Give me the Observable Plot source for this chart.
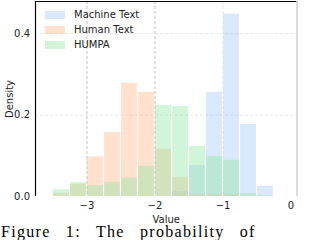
<!DOCTYPE html>
<html>
<head>
<meta charset="utf-8">
<script src="https://cdn.jsdelivr.net/npm/d3@7"></script>
<script src="https://cdn.jsdelivr.net/npm/@observablehq/plot@0.6"></script>
<style>
  html, body { margin: 0; padding: 0; background: #fff; width: 320px; height: 240px; overflow: hidden; }
  #wrap { position: relative; width: 320px; height: 240px; }
  #legend { position: absolute; left: 45px; top: 7px; font: 10px "DejaVu Sans", sans-serif; color: #222; }
  .row { display: flex; align-items: center; height: 15px; }
  .sw { width: 20px; height: 8px; margin-right: 9px; }
  #caption { position: absolute; left: 1px; top: 224px; font: 16px/16px "Liberation Serif", serif; white-space: nowrap; letter-spacing: 1.3px; word-spacing: 10px; color: #000; }
</style>
</head>
<body>
<div id="wrap"><div id="chart"></div><div id="legend"></div><div id="caption">Figure 1: The probability of</div></div>
<script>
// Data
const binStart = [-3.5, -3.25, -3.0, -2.75, -2.5, -2.25, -2.0, -1.75, -1.5, -1.25, -1.0, -0.75, -0.5];
const binWidth = 0.25;
const seriesNames = ["Machine Text", "Human Text", "HUMPA"];
const machine = [0, 0, 0, 0, 0, 0, 0, 0.012, 0.076, 0.256, 0.448, 0.177, 0.025];
const human   = [0.008, 0.030, 0.097, 0.157, 0.278, 0.256, 0.116, 0.047, 0.005, 0.004, 0.004, 0, 0];
const humpa   = [0.017, 0.034, 0.027, 0.034, 0.045, 0.074, 0.224, 0.221, 0.123, 0.098, 0.089, 0.007, 0.002];
const colors  = ["#a1c9f4", "#ffb482", "#8de5a1"];
const xTicks = [-3, -2, -1, 0];
const yTicks = [0, 0.2, 0.4];
const xDomain = [-3.757, 0.088];
const yDomain = [0, 0.479];

const values = [machine, human, humpa];
const rows = [];
values.forEach((arr, s) => arr.forEach((v, i) => rows.push({series: seriesNames[s], x1: binStart[i], x2: binStart[i] + binWidth, y1: 0, y2: v})));

const chart = Plot.plot({
  width: 320,
  height: 224,
  marginTop: 1,
  marginBottom: 28,
  marginLeft: 35,
  marginRight: 23.5,
  style: {fontFamily: "DejaVu Sans", fontSize: "10px", color: "#222", background: "white"},
  x: {domain: xDomain, ticks: xTicks, tickFormat: d3.format("d"), tickSize: 0, tickPadding: 5.5, label: "Value", labelAnchor: "center", labelArrow: "none", labelOffset: 26},
  y: {domain: yDomain, ticks: yTicks, tickFormat: ".1f", tickSize: 0, tickPadding: 5.5, label: "Density", labelAnchor: "center", labelArrow: "none", labelOffset: 30},
  color: {domain: seriesNames, range: colors},
  marks: [
    Plot.ruleY(yTicks.filter(d => d > 0), {stroke: "#e6e6e6", strokeDasharray: "3,2"}),
    Plot.ruleX([-1], {stroke: "#e8e8e8", strokeDasharray: "3,2"}),
    Plot.rect(rows, {x1: "x1", x2: "x2", y1: "y1", y2: "y2", fill: "series", fillOpacity: 0.4, insetLeft: 0.6, insetRight: 0.6}),
    Plot.ruleX([-3, -2], {stroke: "#c4c4c4", strokeDasharray: "3,2"}),
    Plot.ruleY([yDomain[1]], {stroke: "#000", strokeWidth: 1.2}),
    Plot.ruleX([xDomain[0]], {stroke: "#000", strokeWidth: 1.2}),
    Plot.ruleX([xDomain[1]], {stroke: "#c8c8c0", strokeWidth: 1.2})
  ]
});
document.getElementById("chart").appendChild(chart);

const legend = document.getElementById("legend");
seriesNames.forEach((name, i) => {
  const row = document.createElement("div");
  row.className = "row";
  const sw = document.createElement("div");
  sw.className = "sw";
  sw.style.background = colors[i];
  sw.style.opacity = 0.4;
  const t = document.createElement("span");
  t.textContent = name;
  row.appendChild(sw); row.appendChild(t);
  legend.appendChild(row);
});
</script>
</body>
</html>
